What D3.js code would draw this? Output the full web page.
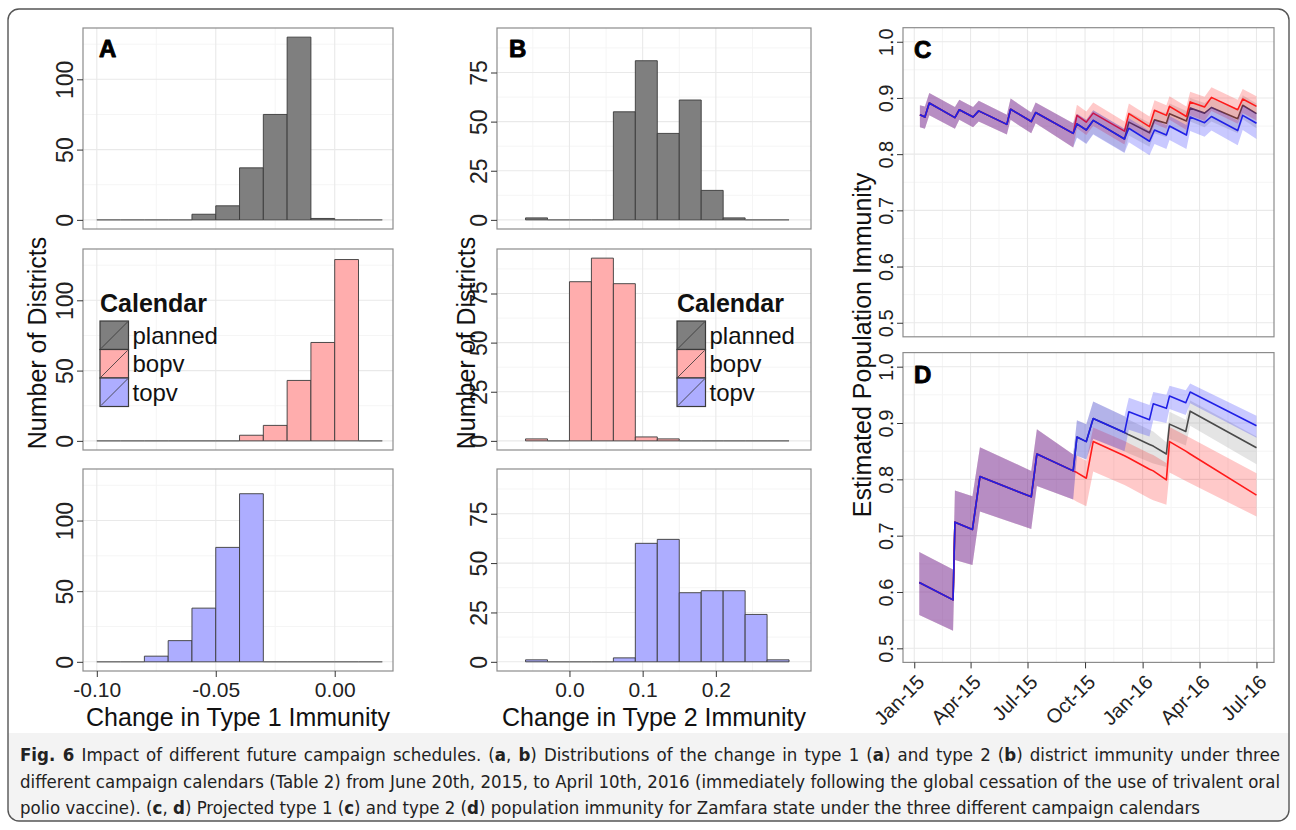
<!DOCTYPE html>
<html>
<head>
<meta charset="utf-8">
<script src="https://cdnjs.cloudflare.com/ajax/libs/d3/7.8.5/d3.min.js"></script>
<style>
  body { margin: 0; background: #fff; }
  svg text { font-family: "Liberation Sans", Arial, Helvetica, sans-serif; }
  .caption text { font-family: "Liberation Sans Narrow", "DejaVu Sans Condensed", "Liberation Sans", sans-serif; }
</style>
</head>
<body>
<svg id="fig" width="1296" height="830"></svg>
<script>
'use strict';

// ---------- data: histograms (counts of districts per bin) ----------
const calendars = ["planned", "bopv", "topv"];

const t1BinStarts = [-0.10, -0.09, -0.08, -0.07, -0.06, -0.05, -0.04, -0.03, -0.02, -0.01, 0.00, 0.01];
const t1BinWidth = 0.01;
const t1Planned = [0, 0, 0, 0, 4, 10, 37, 75, 130, 1, 0, 0];
const t1Bopv    = [0, 0, 0, 0, 0, 0, 4, 11, 43, 70, 129, 0];
const t1Topv    = [0, 0, 4, 15, 38, 81, 119, 0, 0, 0, 0, 0];

const t2BinStarts = [-0.06, -0.03, 0.00, 0.03, 0.06, 0.09, 0.12, 0.15, 0.18, 0.21, 0.24, 0.27];
const t2BinWidth = 0.03;
const t2Planned = [1, 0, 0, 0, 55, 81, 44, 61, 15, 1, 0, 0];
const t2Bopv    = [1, 0, 81, 93, 80, 2, 1, 0, 0, 0, 0, 0];
const t2Topv    = [1, 0, 0, 0, 2, 60, 62, 35, 36, 36, 24, 1];

const t1Ticks = [-0.10, -0.05, 0.00];
const t2Ticks = [0.0, 0.1, 0.2];
const t1CountTicks = [0, 50, 100];
const t2CountTicks = [0, 25, 50, 75];

// ---------- data: population immunity, type 1 (C) ----------
const cCommonDates = ["2015-01-10", "2015-01-18", "2015-01-25", "2015-03-07", "2015-03-14", "2015-04-05",
  "2015-04-14", "2015-05-29", "2015-06-04", "2015-07-07", "2015-07-14", "2015-09-12"];
const cCommon   = [0.870, 0.866, 0.891, 0.865, 0.879, 0.866, 0.877, 0.853, 0.880, 0.858, 0.874, 0.837];
const cCommonLo = [0.848, 0.845, 0.869, 0.845, 0.861, 0.848, 0.858, 0.835, 0.861, 0.837, 0.855, 0.812];
const cCommonHi = [0.887, 0.885, 0.909, 0.884, 0.897, 0.884, 0.895, 0.870, 0.899, 0.874, 0.892, 0.855];

const cSplitDates = ["2015-09-18", "2015-10-03", "2015-10-14", "2015-12-03", "2015-12-10", "2016-01-12",
  "2016-01-20", "2016-02-08", "2016-02-13", "2016-03-11", "2016-03-17", "2016-04-09", "2016-04-20",
  "2016-06-01", "2016-06-09", "2016-07-01"];
const cPlanned   = [0.854, 0.843, 0.860, 0.827, 0.857, 0.838, 0.861, 0.855, 0.872, 0.859, 0.882, 0.873, 0.883, 0.863, 0.887, 0.872];
const cPlannedLo = [0.830, 0.819, 0.836, 0.803, 0.833, 0.813, 0.837, 0.830, 0.847, 0.834, 0.858, 0.848, 0.858, 0.837, 0.862, 0.846];
const cPlannedHi = [0.872, 0.861, 0.878, 0.845, 0.875, 0.856, 0.879, 0.873, 0.890, 0.877, 0.900, 0.891, 0.901, 0.881, 0.905, 0.890];
const cBopv      = [0.869, 0.857, 0.873, 0.841, 0.872, 0.849, 0.878, 0.869, 0.885, 0.867, 0.893, 0.884, 0.901, 0.879, 0.898, 0.885];
const cBopvLo    = [0.846, 0.834, 0.850, 0.817, 0.848, 0.825, 0.854, 0.845, 0.861, 0.843, 0.869, 0.859, 0.877, 0.854, 0.873, 0.860];
const cBopvHi    = [0.888, 0.876, 0.892, 0.858, 0.890, 0.867, 0.896, 0.887, 0.903, 0.885, 0.911, 0.902, 0.919, 0.897, 0.916, 0.903];
const cTopv      = [0.854, 0.843, 0.860, 0.827, 0.846, 0.823, 0.843, 0.834, 0.850, 0.834, 0.866, 0.856, 0.867, 0.842, 0.869, 0.855];
const cTopvLo    = [0.829, 0.818, 0.835, 0.802, 0.821, 0.798, 0.818, 0.809, 0.825, 0.809, 0.841, 0.831, 0.842, 0.816, 0.843, 0.827];
const cTopvHi    = [0.872, 0.861, 0.878, 0.845, 0.864, 0.841, 0.861, 0.852, 0.868, 0.852, 0.884, 0.874, 0.885, 0.860, 0.887, 0.873];

// ---------- data: population immunity, type 2 (D) ----------
const dCommonDates = ["2015-01-09", "2015-03-04", "2015-03-07", "2015-04-04", "2015-04-16", "2015-07-07",
  "2015-07-16", "2015-09-12"];
const dCommon   = [0.617, 0.586, 0.724, 0.711, 0.805, 0.769, 0.845, 0.815];
const dCommonLo = [0.559, 0.531, 0.657, 0.648, 0.743, 0.712, 0.788, 0.764];
const dCommonHi = [0.671, 0.640, 0.780, 0.770, 0.857, 0.815, 0.889, 0.844];

const dSplitDates = ["2015-09-18", "2015-10-03", "2015-10-14", "2015-12-03", "2015-12-10", "2016-01-12",
  "2016-01-18", "2016-02-08", "2016-02-13", "2016-03-10", "2016-03-17", "2016-07-01"];
const dPlanned   = [0.875, 0.867, 0.908, 0.883, 0.879, 0.862, 0.859, 0.845, 0.898, 0.885, 0.921, 0.856];
const dPlannedLo = [0.842, 0.835, 0.872, 0.850, 0.846, 0.831, 0.828, 0.822, 0.872, 0.860, 0.895, 0.827];
const dPlannedHi = [0.905, 0.898, 0.938, 0.912, 0.906, 0.888, 0.885, 0.866, 0.920, 0.906, 0.940, 0.876];
const dBopv      = [0.812, 0.802, 0.867, 0.842, 0.838, 0.818, 0.815, 0.799, 0.867, 0.850, 0.845, 0.772];
const dBopvLo    = [0.760, 0.752, 0.814, 0.790, 0.786, 0.766, 0.763, 0.755, 0.812, 0.797, 0.793, 0.734];
const dBopvHi    = [0.842, 0.833, 0.892, 0.868, 0.864, 0.846, 0.843, 0.829, 0.893, 0.878, 0.874, 0.811];
const dTopv      = [0.875, 0.867, 0.908, 0.883, 0.920, 0.906, 0.934, 0.926, 0.948, 0.936, 0.955, 0.895];
const dTopvLo    = [0.842, 0.835, 0.872, 0.850, 0.888, 0.876, 0.905, 0.900, 0.925, 0.914, 0.935, 0.874];
const dTopvHi    = [0.905, 0.898, 0.938, 0.912, 0.945, 0.932, 0.955, 0.950, 0.966, 0.958, 0.970, 0.913];

const dateTicks = ["2015-01-01", "2015-04-01", "2015-07-01", "2015-10-01", "2016-01-01", "2016-04-01", "2016-07-01"];
const immunityTicks = [0.5, 0.6, 0.7, 0.8, 0.9, 1.0];

const captionLines = [
  [["Fig. 6", true], [" Impact of different future campaign schedules. (", false], ["a", true], [", ", false], ["b", true],
   [") Distributions of the change in type 1 (", false], ["a", true], [") and type 2 (", false], ["b", true],
   [") district immunity under three", false]],
  [["different campaign calendars (Table 2) from June 20th, 2015, to April 10th, 2016 (immediately following the global cessation of the use of trivalent oral", false]],
  [["polio vaccine). (", false], ["c", true], [", ", false], ["d", true], [") Projected type 1 (", false], ["c", true],
   [") and type 2 (", false], ["d", true], [") population immunity for Zamfara state under the three different campaign calendars", false]]
];

// ---------- styles / layout ----------
const histFill = { planned: "#7f7f7f", bopv: "#ffadad", topv: "#adadff" };
const lineColor = { planned: "#4a4a4a", bopv: "#ff1a1a", topv: "#2020e6" };
const ribbonColor = { planned: "#7f7f7f", bopv: "#ff0000", topv: "#0000ff" };

const histRows = [[28, 229], [249, 450], [469, 671]];
const tsLeft = 903, tsRight = 1274;

const svg = d3.select("#fig");
const parseDate = d3.timeParse("%Y-%m-%d");

// frame + caption background
const defs = svg.append("defs");
defs.append("clipPath").attr("id", "frameClip")
  .append("rect").attr("x", 8).attr("y", 9).attr("width", 1281).attr("height", 812).attr("rx", 11);
svg.append("rect").attr("x", 0).attr("y", 733).attr("width", 1296).attr("height", 100)
  .attr("fill", "#f3f3f3").attr("clip-path", "url(#frameClip)");
svg.append("rect").attr("x", 8).attr("y", 9).attr("width", 1281).attr("height", 812).attr("rx", 11)
  .attr("fill", "none").attr("stroke", "#555").attr("stroke-width", 1.4);

const styleAxis = (g, size) => {
  g.select(".domain").remove();
  g.selectAll(".tick line").attr("stroke", "#333").attr("stroke-width", 1);
  g.selectAll(".tick text").attr("fill", "#222").style("font-size", size + "px");
};

const drawGrid = (g, xs, ys, xMajor, xMinor, yMajor, yMinor, x0, x1, y0, y1) => {
  const grid = g.append("g");
  const add = (vals, scale, vertical, color, width) => {
    grid.selectAll(null).data(vals).enter().append("line")
      .attr("x1", d => vertical ? scale(d) : x0)
      .attr("x2", d => vertical ? scale(d) : x1)
      .attr("y1", d => vertical ? y0 : scale(d))
      .attr("y2", d => vertical ? y1 : scale(d))
      .attr("stroke", color).attr("stroke-width", width);
  };
  add(xMinor, xs, true, "#f5f5f5", 1);
  add(yMinor, ys, false, "#f5f5f5", 1);
  add(xMajor, xs, true, "#e9e9e9", 1.1);
  add(yMajor, ys, false, "#e9e9e9", 1.1);
};

const panelLetter = (x, y, letter) => {
  svg.append("text").attr("x", x).attr("y", y).style("font-size", "24px")
    .style("font-weight", "bold").attr("fill", "#000")
    .attr("stroke", "#000").attr("stroke-width", 0.9).attr("stroke-linejoin", "round")
    .text(letter);
};

// ---------- histogram columns ----------
const drawHistColumn = (opt) => {
  const x = d3.scaleLinear().domain(opt.xDomain).range([opt.left, opt.right]);
  opt.series.forEach((counts, i) => {
    const [top, bottom] = histRows[i];
    const y = d3.scaleLinear().domain(opt.yDomain).range([bottom, top]);
    const g = svg.append("g");
    drawGrid(g, x, y, opt.xTicks, opt.xMinor, opt.countTicks, opt.countMinor, opt.left, opt.right, top, bottom);

    const bins = opt.binStarts.map((b, k) => ({ x0: b, x1: b + opt.binWidth, n: counts[k] }));
    g.selectAll("path.bar").data(bins).enter().append("path")
      .attr("class", "bar")
      .attr("d", d => `M${x(d.x0)},${y(0)}V${y(d.n)}H${x(d.x1)}V${y(0)}Z`)
      .attr("fill", d => d.n > 0 ? histFill[calendars[i]] : "none")
      .attr("stroke", d => d.n > 0 ? "#3a3a3a" : "#666")
      .attr("stroke-width", 0.9);

    g.append("rect").attr("x", opt.left).attr("y", top)
      .attr("width", opt.right - opt.left).attr("height", bottom - top)
      .attr("fill", "none").attr("stroke", "#8c8c8c").attr("stroke-width", 1.2);

    const ay = g.append("g").attr("transform", `translate(${opt.left},0)`)
      .call(d3.axisLeft(y).tickValues(opt.countTicks).tickSize(6));
    styleAxis(ay, 23);
    ay.selectAll(".tick text")
      .attr("transform", "rotate(-90)").attr("x", 0).attr("y", -10).attr("dy", 0)
      .style("text-anchor", "middle");

    if (i === 2) {
      const ax = g.append("g").attr("transform", `translate(0,${bottom})`)
        .call(d3.axisBottom(x).tickValues(opt.xTicks).tickSize(6).tickFormat(opt.fmt));
      styleAxis(ax, 21);
      ax.selectAll(".tick text").attr("y", 10).attr("dy", "0.78em");
    }
  });

  svg.append("text").attr("x", (opt.left + opt.right) / 2).attr("y", 726)
    .attr("text-anchor", "middle").style("font-size", "25px").attr("fill", "#111").text(opt.xTitle);
  svg.append("text").attr("transform", `translate(${opt.yTitleX},343) rotate(-90)`)
    .attr("text-anchor", "middle").style("font-size", "25px").attr("fill", "#111").text("Number of Districts");

  // legend in middle row
  const lg = svg.append("g").attr("transform", `translate(${opt.legendX},0)`);
  lg.append("text").attr("x", 0).attr("y", 312).style("font-size", "25px").style("font-weight", "bold")
    .attr("fill", "#111").text("Calendar");
  const key = 28.5;
  calendars.forEach((c, k) => {
    const ky = 321 + k * key;
    lg.append("rect").attr("x", 0).attr("y", ky).attr("width", key).attr("height", key)
      .attr("fill", histFill[c]).attr("stroke", "#3a3a3a").attr("stroke-width", 1.2);
    lg.append("line").attr("x1", 1).attr("y1", ky + key - 1).attr("x2", key - 1).attr("y2", ky + 1)
      .attr("stroke", "#333").attr("stroke-width", 0.8);
    lg.append("text").attr("x", key + 4).attr("y", ky + key / 2 + 8.5)
      .style("font-size", "24px").attr("fill", "#111").text(c);
  });

  panelLetter(opt.letterX, 57, opt.letter);
};

drawHistColumn({
  left: 83, right: 393, xDomain: [-0.1058, 0.0245], yDomain: [-6.5, 136.5],
  binStarts: t1BinStarts, binWidth: t1BinWidth, series: [t1Planned, t1Bopv, t1Topv],
  xTicks: t1Ticks, xMinor: [-0.075, -0.025], countTicks: t1CountTicks, countMinor: [25, 75, 125],
  fmt: d => d.toFixed(2), xTitle: "Change in Type 1 Immunity", yTitleX: 46,
  legendX: 100, letter: "A", letterX: 99
});

drawHistColumn({
  left: 497, right: 811, xDomain: [-0.099, 0.330], yDomain: [-4.65, 97.65],
  binStarts: t2BinStarts, binWidth: t2BinWidth, series: [t2Planned, t2Bopv, t2Topv],
  xTicks: t2Ticks, xMinor: [-0.05, 0.05, 0.15, 0.25], countTicks: t2CountTicks, countMinor: [12.5, 37.5, 62.5, 87.5],
  fmt: d => d.toFixed(1), xTitle: "Change in Type 2 Immunity", yTitleX: 475,
  legendX: 677, letter: "B", letterX: 509
});

// ---------- population immunity panels ----------
const xTime = d3.scaleTime()
  .domain([parseDate("2014-12-14"), parseDate("2016-07-29")])
  .range([tsLeft, tsRight]);
const tickDates = dateTicks.map(parseDate);
const minorDates = d3.pairs(tickDates).map(([a, b]) => new Date((+a + +b) / 2));

const buildSeries = (commonDates, common, commonLo, commonHi, splitDates, vals, lo, hi) => {
  const dates = commonDates.concat(splitDates).map(parseDate);
  const m = common.concat(vals), l = commonLo.concat(lo), h = commonHi.concat(hi);
  return dates.map((d, i) => ({ date: d, mean: m[i], lo: l[i], hi: h[i] }));
};

const drawTimePanel = (opt) => {
  const [top, bottom] = opt.rows;
  const y = d3.scaleLinear().domain([0.475, 1.025]).range([bottom, top]);
  const g = svg.append("g");
  drawGrid(g, xTime, y, tickDates, minorDates, immunityTicks, [0.55, 0.65, 0.75, 0.85, 0.95],
    tsLeft, tsRight, top, bottom);

  const area = d3.area().x(d => xTime(d.date)).y0(d => y(d.lo)).y1(d => y(d.hi));
  const line = d3.line().x(d => xTime(d.date)).y(d => y(d.mean));

  calendars.forEach((c, k) => {
    const s = opt.series[k];
    g.append("path").attr("d", area(s)).attr("fill", ribbonColor[c]).attr("fill-opacity", 0.21);
    g.append("path").attr("d", line(s)).attr("fill", "none")
      .attr("stroke", lineColor[c]).attr("stroke-width", 1.6).attr("stroke-linejoin", "round");
  });

  g.append("rect").attr("x", tsLeft).attr("y", top).attr("width", tsRight - tsLeft).attr("height", bottom - top)
    .attr("fill", "none").attr("stroke", "#8c8c8c").attr("stroke-width", 1.2);

  const ay = g.append("g").attr("transform", `translate(${tsLeft},0)`)
    .call(d3.axisLeft(y).tickValues(immunityTicks).tickSize(6).tickFormat(d => d.toFixed(1)));
  styleAxis(ay, 20);
  ay.selectAll(".tick text")
    .attr("transform", "rotate(-90)").attr("x", 0).attr("y", -10).attr("dy", 0)
    .style("text-anchor", "middle");

  if (opt.showX) {
    const ax = g.append("g").attr("transform", `translate(0,${bottom})`)
      .call(d3.axisBottom(xTime).tickValues(tickDates).tickSize(6).tickFormat(d3.timeFormat("%b-%y")));
    styleAxis(ax, 20);
    ax.selectAll(".tick text")
      .attr("x", 0).attr("y", 0).attr("dy", "0.35em")
      .attr("transform", "translate(6,16) rotate(-45)")
      .style("text-anchor", "end");
  }

  panelLetter(tsLeft + 11, top + 30, opt.letter);
};

drawTimePanel({
  rows: [27.7, 336.8], letter: "C", showX: false,
  series: [
    buildSeries(cCommonDates, cCommon, cCommonLo, cCommonHi, cSplitDates, cPlanned, cPlannedLo, cPlannedHi),
    buildSeries(cCommonDates, cCommon, cCommonLo, cCommonHi, cSplitDates, cBopv, cBopvLo, cBopvHi),
    buildSeries(cCommonDates, cCommon, cCommonLo, cCommonHi, cSplitDates, cTopv, cTopvLo, cTopvHi)
  ]
});

drawTimePanel({
  rows: [352.6, 662.4], letter: "D", showX: true,
  series: [
    buildSeries(dCommonDates, dCommon, dCommonLo, dCommonHi, dSplitDates, dPlanned, dPlannedLo, dPlannedHi),
    buildSeries(dCommonDates, dCommon, dCommonLo, dCommonHi, dSplitDates, dBopv, dBopvLo, dBopvHi),
    buildSeries(dCommonDates, dCommon, dCommonLo, dCommonHi, dSplitDates, dTopv, dTopvLo, dTopvHi)
  ]
});

svg.append("text").attr("transform", "translate(871,345) rotate(-90)")
  .attr("text-anchor", "middle").style("font-size", "25px").attr("fill", "#111")
  .text("Estimated Population Immunity");

// ---------- caption ----------
const capWidth = 1260;
const cap = svg.append("g").attr("class", "caption");
const capTexts = captionLines.map((segs, i) => {
  const t = cap.append("text").attr("x", 20).attr("y", 761 + i * 26.5)
    .style("font-size", "18px").attr("fill", "#222");
  segs.forEach(([txt, bold]) => {
    t.append("tspan").style("font-weight", bold ? "bold" : "normal").text(txt);
  });
  return t;
});
// size the longest line to the caption width, then justify the first line with word spacing
const widest = d3.max(capTexts, t => t.node().getComputedTextLength());
const capSize = 18 * capWidth / widest;
capTexts.forEach(t => t.style("font-size", capSize + "px"));
[0, 1].forEach(i => {
  const t = capTexts[i];
  const w = t.node().getComputedTextLength();
  const spaces = captionLines[i].map(s => s[0]).join("").split(" ").length - 1;
  if (w < capWidth && spaces > 0) t.attr("word-spacing", (capWidth - w) / spaces);
});
</script>
</body>
</html>
